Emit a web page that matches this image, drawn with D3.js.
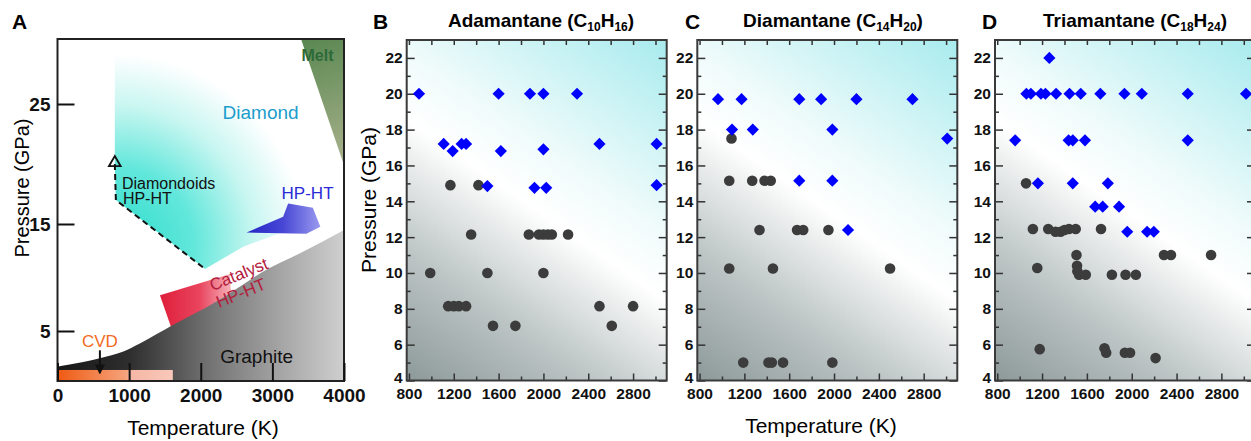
<!DOCTYPE html>
<html>
<head>
<meta charset="utf-8">
<script src="https://cdn.jsdelivr.net/npm/d3@7"></script>
<style>
  body { margin: 0; background: #fff; }
  svg { display: block; font-family: Arial, "Liberation Sans", sans-serif; }
</style>
</head>
<body>
<svg id="chart" width="1251" height="441"></svg>
<script>
// ---- Panel A: carbon phase diagram (temperature K, pressure GPa)
const phaseTempTicks = [0, 1000, 2000, 3000, 4000];
const phasePressTicks = [5, 15, 25];
const graphiteBoundary = [[0, 1.86], [130, 2.0], [590, 2.6], [920, 3.2], [1150, 3.9], [1610, 5.55], [2220, 7.75], [2910, 10.7], [3380, 12.25], [4000, 14.45]];
const diamondZone = [[800, 30.5], [800, 20], [815, 17], [2060, 10.8], [2600, 12.9], [3300, 14.6], [4000, 16.2], [4000, 30.5]];
const diamondoidPath = [[800, 20], [815, 17], [2060, 10.8]];
const diamondoidStart = [800, 20.1];
const meltZone = [[3400, 30.5], [4000, 30.5], [4000, 19.9]];
const hphtZone = [[2640, 14.2], [3150, 15.6], [3220, 16.7], [3565, 16.35], [3670, 14.75], [3475, 14.1]];
const catalystZone = [[1430, 8.35], [2400, 10.3], [2430, 8.3], [1600, 5.1]];
const cvdRange = { tMin: 0, tMax: 1610, pMin: 0.6, pMax: 1.57 };

// ---- Panels B-D: experiments (temperature K, pressure GPa)
const tempTicks = [800, 1200, 1600, 2000, 2400, 2800];
const pressTicks = [4, 6, 8, 10, 12, 14, 16, 18, 20, 22];

const adamantaneDiamond = [[890, 20], [1110, 17.2], [1190, 16.8], [1270, 17.2], [1310, 17.2], [1500, 14.85], [1600, 20], [1620, 16.8], [1880, 20], [2000, 20], [2000, 16.9], [1920, 14.75], [2025, 14.75], [2300, 20], [2500, 17.2], [3010, 17.2], [3010, 14.9]];
const adamantaneNone = [[1170, 14.9], [1420, 14.9], [1355, 12.15], [990, 10], [1500, 10], [2000, 10], [1150, 8.15], [1200, 8.15], [1245, 8.15], [1310, 8.15], [1550, 7.05], [1750, 7.05], [1870, 12.15], [1960, 12.15], [2000, 12.15], [2040, 12.15], [2075, 12.15], [2220, 12.15], [2500, 8.15], [2610, 7.05], [2800, 8.15]];

const diamantaneDiamond = [[965, 19.7], [1175, 19.7], [1090, 18], [1275, 18], [1690, 19.7], [1885, 19.7], [2200, 19.7], [2700, 19.7], [1985, 18], [3010, 17.5], [1690, 15.15], [1985, 15.15], [2125, 12.4]];
const diamantaneNone = [[1085, 17.5], [1065, 15.15], [1270, 15.15], [1380, 15.15], [1435, 15.15], [1335, 12.4], [1670, 12.4], [1725, 12.4], [1950, 12.4], [1065, 10.25], [1455, 10.25], [2500, 10.25], [1190, 5], [1415, 5], [1445, 5], [1545, 5], [1985, 5]];

const triamantaneDiamond = [[1265, 22], [1060, 20], [1100, 20], [1190, 20], [1230, 20], [1325, 20], [1445, 20], [1545, 20], [1720, 20], [1935, 20], [2090, 20], [2500, 20], [3020, 20], [960, 17.4], [1437, 17.4], [1474, 17.4], [1583, 17.4], [2500, 17.4], [1163, 15], [1474, 15], [1787, 15], [1674, 13.7], [1741, 13.7], [1887, 13.7], [1960, 12.3], [2137, 12.3], [2197, 12.3]];
const triamantaneNone = [[1057, 15], [1118, 12.45], [1255, 12.45], [1320, 12.3], [1365, 12.3], [1400, 12.4], [1440, 12.45], [1500, 12.45], [1726, 12.45], [1157, 10.28], [1507, 11], [1512, 10.4], [1515, 10.1], [1530, 9.9], [1590, 9.9], [1823, 9.9], [1945, 9.9], [2037, 9.9], [2288, 11], [2350, 11], [2708, 11], [1179, 5.75], [1757, 5.8], [1772, 5.55], [1939, 5.55], [1985, 5.55], [2213, 5.25]];

const svg = d3.select('#chart');
const defs = svg.append('defs');
const fontStack = 'Arial, "Liberation Sans", sans-serif';

function linGrad(id, coords, stops) {
  const g = defs.append('linearGradient').attr('id', id).attr('gradientUnits', 'userSpaceOnUse')
    .attr('x1', coords[0]).attr('y1', coords[1]).attr('x2', coords[2]).attr('y2', coords[3]);
  stops.forEach(s => g.append('stop').attr('offset', s[0]).attr('stop-color', s[1]));
}

// ================= Panel A =================
const xA = d3.scaleLinear().domain([0, 4000]).range([57.5, 344]);
const yA = d3.scaleLinear().domain([0.6, 5, 15, 25, 30.5]).range([381, 331, 224, 104, 39]);
const gA = svg.append('g');

const polyA = pts => 'M' + pts.map(p => `${xA(p[0])},${yA(p[1])}`).join('L') + 'Z';

// cyan diamond field
const rg = defs.append('radialGradient').attr('id', 'cyanGrad').attr('gradientUnits', 'userSpaceOnUse')
  .attr('cx', xA(800)).attr('cy', yA(13)).attr('r', 225);
[[0, '#2bdccb'], [0.35, '#62e7db'], [0.62, '#c8f6f1'], [0.85, '#ffffff']]
  .forEach(s => rg.append('stop').attr('offset', s[0]).attr('stop-color', s[1]));
gA.append('path').attr('d', polyA(diamondZone)).attr('fill', 'url(#cyanGrad)');

// melt
linGrad('meltGrad', [xA(3500), yA(30.5), xA(4000), yA(20)], [[0, '#5b8852'], [1, '#a9b18c']]);
gA.append('path').attr('d', polyA(meltZone)).attr('fill', 'url(#meltGrad)');

// HP-HT
linGrad('hphtGrad', [xA(2640), 0, xA(3670), 0], [[0, '#2626c6'], [0.5, '#4848d6'], [1, '#9a9aee']]);
gA.append('path').attr('d', polyA(hphtZone)).attr('fill', 'url(#hphtGrad)');

// catalyst HP-HT
linGrad('catGrad', [xA(1430), 0, xA(2430), 0], [[0, '#df1f3a'], [0.55, '#e9445e'], [1, '#f6b3bb']]);
gA.append('path').attr('d', polyA(catalystZone)).attr('fill', 'url(#catGrad)');

// graphite
linGrad('graphGrad', [xA(0), 0, xA(4000), 0], [[0, '#161616'], [0.25, '#2e2e2e'], [0.55, '#777777'], [0.8, '#a9a9a9'], [1, '#cfcfcf']]);
gA.append('path')
  .datum(graphiteBoundary)
  .attr('fill', 'url(#graphGrad)')
  .attr('d', d3.area().curve(d3.curveMonotoneX)
    .x(d => xA(d[0])).y0(yA(0.6)).y1(d => yA(d[1])));

// CVD bar
linGrad('cvdGrad', [xA(cvdRange.tMin), 0, xA(cvdRange.tMax), 0], [[0, '#ef5a12'], [0.6, '#f6a37c'], [0.625, '#f6b6a4'], [1, '#f8c8ba']]);
gA.append('rect')
  .attr('x', xA(cvdRange.tMin)).attr('y', yA(cvdRange.pMax))
  .attr('width', xA(cvdRange.tMax) - xA(cvdRange.tMin))
  .attr('height', yA(cvdRange.pMin) - yA(cvdRange.pMax))
  .attr('fill', 'url(#cvdGrad)');

// diamondoid route
gA.append('path')
  .datum(diamondoidPath)
  .attr('fill', 'none').attr('stroke', '#111').attr('stroke-width', 2).attr('stroke-dasharray', '6,4')
  .attr('d', d3.line().x(d => xA(d[0])).y(d => yA(d[1])));
gA.append('path')
  .attr('d', d3.symbol().type(d3.symbolTriangle).size(60)())
  .attr('transform', `translate(${xA(diamondoidStart[0])},${yA(diamondoidStart[1])})`)
  .attr('fill', 'none').attr('stroke', '#111').attr('stroke-width', 1.8);

// CVD arrow
defs.append('marker').attr('id', 'arrowHead').attr('viewBox', '0 0 10 10')
  .attr('refX', 8).attr('refY', 5).attr('markerWidth', 5).attr('markerHeight', 5).attr('orient', 'auto')
  .append('path').attr('d', 'M0,0L10,5L0,10Z').attr('fill', '#111');
gA.append('line')
  .attr('x1', xA(592)).attr('x2', xA(592)).attr('y1', yA(3.3)).attr('y2', yA(1.35))
  .attr('stroke', '#111').attr('stroke-width', 2).attr('marker-end', 'url(#arrowHead)');

// region labels
const labA = (txt, t, p, color, size, anchor = 'middle', rot = 0) => gA.append('text')
  .attr('transform', `translate(${xA(t)},${yA(p)}) rotate(${rot})`)
  .attr('text-anchor', anchor).attr('fill', color).attr('font-size', size).text(txt);
labA('Diamond', 2836, 23.75, '#1c9dcc', 19);
labA('Melt', 3630, 28.6, '#2d6a3a', 16).attr('font-weight', 'bold');
labA('Diamondoids', 900, 17.9, '#111', 16, 'start');
labA('HP-HT', 913, 16.67, '#111', 16, 'start');
labA('HP-HT', 3491, 17.1, '#2a2ad6', 17);
labA('Catalyst', 2560, 9.8, '#b3203d', 17, 'middle', -22);
labA('HP-HT', 2590, 8.05, '#b3203d', 17, 'middle', -22);
labA('CVD', 592, 3.6, '#f26a1e', 17);
labA('Graphite', 2780, 2.18, '#111', 19);

// frame and axes
gA.append('rect')
  .attr('x', xA(0)).attr('y', yA(30.5)).attr('width', xA(4000) - xA(0)).attr('height', yA(0.6) - yA(30.5))
  .attr('fill', 'none').attr('stroke', '#222').attr('stroke-width', 2);
const axA1 = gA.append('g').attr('transform', `translate(${xA(0)},0)`)
  .call(d3.axisLeft(yA).tickValues(phasePressTicks).tickSize(-17).tickPadding(7).tickFormat(d3.format('d')));
const axA2 = gA.append('g').attr('transform', `translate(0,${yA(0.6)})`)
  .call(d3.axisBottom(xA).tickValues(phaseTempTicks).tickSize(-18).tickPadding(8).tickFormat(d3.format('d')));
[axA1, axA2].forEach(a => {
  a.select('.domain').remove();
  a.selectAll('line').attr('stroke', '#111').attr('stroke-width', 2);
  a.selectAll('text').attr('font-size', 19).attr('font-weight', 'bold').attr('fill', '#111')
    .attr('font-family', fontStack);
});

svg.append('text').attr('x', 12).attr('y', 29).attr('font-size', 21).attr('font-weight', 'bold').text('A');
svg.append('text').attr('transform', 'translate(29,188) rotate(-90)').attr('text-anchor', 'middle')
  .attr('font-size', 20).text('Pressure (GPa)');
svg.append('text').attr('x', 203).attr('y', 435).attr('text-anchor', 'middle')
  .attr('font-size', 21).text('Temperature (K)');

// ================= Panels B-D =================
const panels = [
  { letter: 'B', name: 'Adamantane', c: '10', h: '16', left: 406.7, titleX: 541, letterX: 373, diamond: adamantaneDiamond, none: adamantaneNone },
  { letter: 'C', name: 'Diamantane', c: '14', h: '20', left: 697.3, titleX: 833, letterX: 685, diamond: diamantaneDiamond, none: diamantaneNone },
  { letter: 'D', name: 'Triamantane', c: '18', h: '24', left: 995, titleX: 1135, letterX: 982, diamond: triamantaneDiamond, none: triamantaneNone }
];
const pw = 260, plotTop = 40, plotBottom = 380.5;

panels.forEach((p, i) => {
  const x = d3.scaleLinear().domain([780, 3100]).range([p.left, p.left + pw]);
  const y = d3.scaleLinear().domain([4, 23]).range([plotBottom, plotTop]);
  const g = svg.append('g');

  // background shading: grey bottom-left, white middle, cyan top-right
  const h = plotBottom - plotTop;
  const t = (0.7 * pw + h) / 1.49;
  linGrad('bg' + i, [p.left, plotBottom, p.left + 0.7 * t, plotBottom - t],
    [[0, '#8d9999'], [0.25, '#bdc5c5'], [0.5, '#ffffff'], [0.63, '#f0fbfb'], [1, '#a8ebee']]);
  g.append('rect').attr('x', p.left).attr('y', plotTop).attr('width', pw).attr('height', h)
    .attr('fill', `url(#bg${i})`);

  // ticks (inward on all sides)
  const minorT = d3.range(1000, 3100, 400);
  const minorP = d3.range(5, 23, 2);
  const axes = [
    g.append('g').attr('transform', `translate(${p.left},0)`).call(d3.axisLeft(y).tickValues(pressTicks).tickSize(-8).tickPadding(4)),
    g.append('g').attr('transform', `translate(${p.left},0)`).call(d3.axisLeft(y).tickValues(minorP).tickSize(-4).tickFormat('')),
    g.append('g').attr('transform', `translate(${p.left + pw},0)`).call(d3.axisRight(y).tickValues(pressTicks).tickSize(-8).tickFormat('')),
    g.append('g').attr('transform', `translate(${p.left + pw},0)`).call(d3.axisRight(y).tickValues(minorP).tickSize(-4).tickFormat('')),
    g.append('g').attr('transform', `translate(0,${plotBottom})`).call(d3.axisBottom(x).tickValues(tempTicks).tickSize(-7).tickPadding(7).tickFormat(d3.format('d'))),
    g.append('g').attr('transform', `translate(0,${plotBottom})`).call(d3.axisBottom(x).tickValues(minorT).tickSize(-4).tickFormat('')),
    g.append('g').attr('transform', `translate(0,${plotTop})`).call(d3.axisTop(x).tickValues(tempTicks.concat(minorT)).tickSize(-5).tickFormat(''))
  ];
  axes.forEach(a => {
    a.select('.domain').remove();
    a.selectAll('line').attr('stroke', '#333').attr('stroke-width', 1.5);
    a.selectAll('text').attr('font-size', 15.5).attr('font-weight', 'bold').attr('fill', '#111')
      .attr('font-family', fontStack);
  });
  // lift the lowest pressure label clear of the temperature labels
  axes[0].selectAll('text').filter(d => d === 4).attr('dy', '0.1em');

  // no-diamond runs
  g.selectAll('.none')
    .data(p.none)
    .enter()
    .append('circle')
    .attr('cx', d => x(d[0]))
    .attr('cy', d => y(d[1]))
    .attr('r', 5.3)
    .attr('fill', '#3c3c3c');

  // diamond runs
  g.selectAll('.dia')
    .data(p.diamond)
    .enter()
    .append('path')
    .attr('d', d3.symbol().type(d3.symbolSquare).size(74)())
    .attr('transform', d => `translate(${x(d[0])},${y(d[1])}) rotate(45)`)
    .attr('fill', '#0000ff');

  g.append('rect').attr('x', p.left).attr('y', plotTop).attr('width', pw).attr('height', h)
    .attr('fill', 'none').attr('stroke', '#3a3a3a').attr('stroke-width', 2);

  // titles
  svg.append('text').attr('x', p.letterX).attr('y', 29).attr('font-size', 21).attr('font-weight', 'bold').text(p.letter);
  const title = svg.append('text').attr('x', p.titleX).attr('y', 27).attr('text-anchor', 'middle')
    .attr('font-size', 19).attr('font-weight', 'bold');
  title.append('tspan').text(p.name + ' (C');
  title.append('tspan').attr('font-size', 12).attr('dy', 4).text(p.c);
  title.append('tspan').attr('dy', -4).text('H');
  title.append('tspan').attr('font-size', 12).attr('dy', 4).text(p.h);
  title.append('tspan').attr('dy', -4).text(')');
});

svg.append('text').attr('transform', 'translate(376,200) rotate(-90)').attr('text-anchor', 'middle')
  .attr('font-size', 21).text('Pressure (GPa)');
svg.append('text').attr('x', 821).attr('y', 433).attr('text-anchor', 'middle')
  .attr('font-size', 21).text('Temperature (K)');
</script>
</body>
</html>
